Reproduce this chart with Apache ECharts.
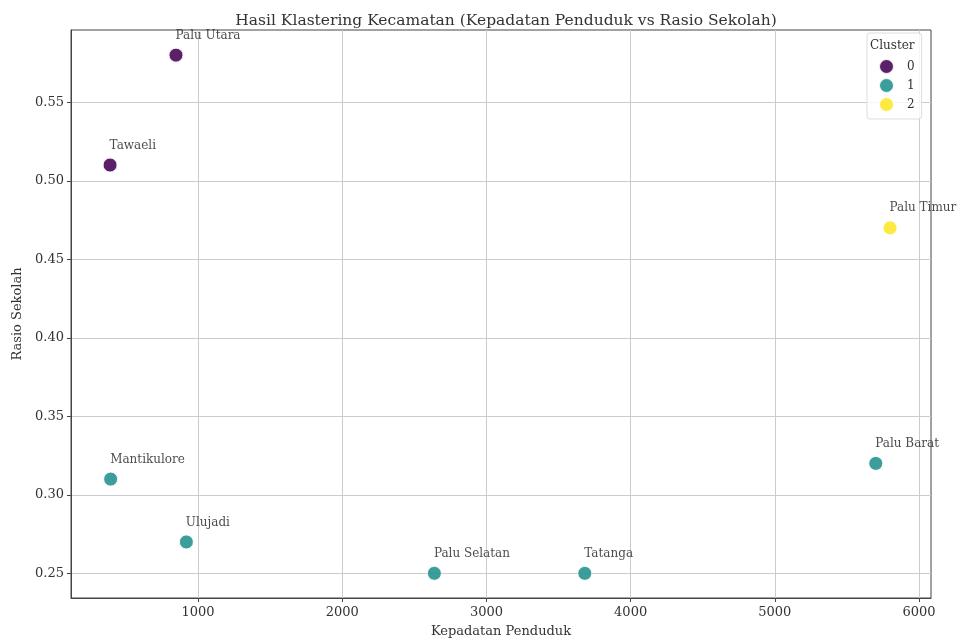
<!DOCTYPE html>
<html>
<head>
<meta charset="utf-8">
<script src="https://cdn.jsdelivr.net/npm/echarts@6/dist/echarts.min.js"></script>
<style>
html,body{margin:0;padding:0;background:#fff;}
#chart{width:957px;height:643px;}
</style>
</head>
<body>
<div id="chart"></div>
<script>
// Data
const names = ['Palu Utara','Tawaeli','Mantikulore','Ulujadi','Palu Selatan','Tatanga','Palu Barat','Palu Timur'];
const density = [847, 390, 394, 919, 2639, 3682, 5700, 5799];
const ratio = [0.58, 0.51, 0.31, 0.27, 0.25, 0.25, 0.32, 0.47];
const cluster = [0, 0, 1, 1, 1, 1, 1, 2];
const clusterNames = ['0','1','2'];
const clusterColors = ['#440154','#21918c','#fde725'];
const xTicks = [1000, 2000, 3000, 4000, 5000, 6000];
const yTicks = [0.25, 0.30, 0.35, 0.40, 0.45, 0.50, 0.55];

const FONT = 'DejaVu Serif';

const series = clusterNames.map((cn, ci) => ({
  name: cn,
  type: 'scatter',
  symbolSize: 14,
  itemStyle: { color: clusterColors[ci], opacity: 0.88, borderColor: '#ffffff', borderWidth: 1 },
  label: {
    show: true,
    formatter: p => p.data[2],
    position: [7, -12],
    align: 'left',
    verticalAlign: 'middle',
    fontFamily: FONT,
    fontSize: 12,
    color: '#333'
  },
  emphasis: { disabled: true },
  data: names.map((n, i) => [density[i], ratio[i], n, cluster[i]]).filter(d => d[3] === ci)
}));

const chart = echarts.init(document.getElementById('chart'));
chart.setOption({
  animation: false,
  backgroundColor: '#ffffff',
  title: {
    text: 'Hasil Klastering Kecamatan (Kepadatan Penduduk vs Rasio Sekolah)',
    left: 501, top: 8, textAlign: 'center',
    textStyle: { fontFamily: FONT, fontSize: 15.5, fontWeight: 'normal', color: '#333' }
  },
  grid: {
    left: 71, right: 26, top: 30, bottom: 45,
    show: true, borderColor: '#444', borderWidth: 1, backgroundColor: 'transparent'
  },
  legend: {
    left: 867, top: 33,
    orient: 'vertical',
    data: clusterNames,
    itemWidth: 15, itemHeight: 15, itemGap: 2,
    icon: 'circle',
    align: 'left',
    textStyle: { fontFamily: FONT, fontSize: 12, color: '#333', padding: [0, 0, 0, 8] },
    padding: [25, 7, 6, 11],
    borderColor: '#dddddd', borderWidth: 1, borderRadius: 3,
    backgroundColor: 'rgba(255,255,255,0.8)'
  },
  graphic: [{
    type: 'text', left: 870, top: 40, z: 100, zlevel: 0,
    style: { text: 'Cluster', font: '12px "DejaVu Serif"', fill: '#333' }
  }],
  xAxis: {
    type: 'value', min: 119, max: 6083,
    name: 'Kepadatan Penduduk', nameLocation: 'middle', nameGap: 27,
    nameTextStyle: { fontFamily: FONT, fontSize: 13, color: '#333' },
    axisLine: { show: true, lineStyle: { color: '#444' } },
    axisTick: { show: true, length: 4, lineStyle: { color: '#444' }, customValues: xTicks },
    axisLabel: { fontFamily: FONT, fontSize: 13, color: '#333', margin: 8, customValues: xTicks, formatter: v => String(v) },
    splitLine: { show: true, lineStyle: { color: '#cccccc', width: 1 } }
  },
  yAxis: {
    type: 'value', min: 0.2343, max: 0.596,
    name: 'Rasio Sekolah', nameLocation: 'middle', nameGap: 44, nameRotate: 90,
    nameTextStyle: { fontFamily: FONT, fontSize: 13, color: '#333' },
    axisLine: { show: true, lineStyle: { color: '#444' } },
    axisTick: { show: true, length: 4, lineStyle: { color: '#444' }, customValues: yTicks },
    axisLabel: { fontFamily: FONT, fontSize: 13, color: '#333', margin: 7, customValues: yTicks, formatter: v => v.toFixed(2) },
    splitLine: { show: true, lineStyle: { color: '#cccccc', width: 1 } }
  },
  series: series
});
</script>
</body>
</html>
